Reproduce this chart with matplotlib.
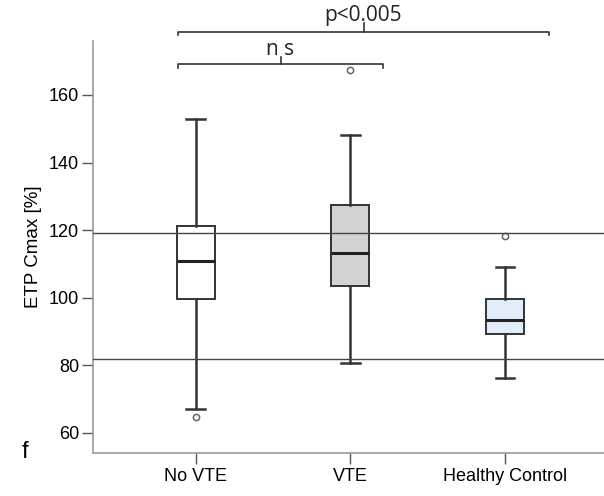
import matplotlib
matplotlib.use("Agg")
import matplotlib.pyplot as plt

# values
groups = ["No VTE", "VTE", "Healthy Control"]
medians = [110.9, 113.2, 93.3]
q1 = [99.5, 103.5, 89.3]
q3 = [121.3, 127.4, 99.6]
whisker_lo = [67.0, 80.8, 76.2]
whisker_hi = [153.0, 148.2, 109.0]
outliers = [[64.8], [167.3], [118.2]]
fills = ["white", "#d3d3d3", "#e1edf9"]
ref_lines = [119.1, 82.0]

plt.rcParams["font.family"] = ["Liberation Sans", "DejaVu Sans"]

fig = plt.figure(figsize=(6.04, 4.96), dpi=100)
ax = fig.add_axes([0.154, 0.087, 0.846, 0.830])

stats = []
for i, name in enumerate(groups):
    stats.append({"label": name, "med": medians[i], "q1": q1[i], "q3": q3[i],
                  "whislo": whisker_lo[i], "whishi": whisker_hi[i],
                  "fliers": outliers[i]})

bp = ax.bxp(stats, positions=[1, 2, 3], widths=0.245, capwidths=0.12,
            patch_artist=True, showfliers=True,
            boxprops=dict(edgecolor="#333333", linewidth=1.4),
            medianprops=dict(color="#222222", linewidth=2.2),
            whiskerprops=dict(color="#333333", linewidth=1.8),
            capprops=dict(color="#333333", linewidth=1.8),
            flierprops=dict(marker="o", markersize=4.5, markerfacecolor="none",
                            markeredgecolor="#666666", markeredgewidth=1.1))
for patch, c in zip(bp["boxes"], fills):
    patch.set_facecolor(c)

for v in ref_lines:
    ax.axhline(v, color="#444444", linewidth=1.0, zorder=3)

ax.set_xlim(0.336, 3.64)
ax.set_ylim(54.1, 175.9)
ax.set_yticks([60, 80, 100, 120, 140, 160])
ax.set_ylabel("ETP Cmax [%]", fontsize=13.5, labelpad=5)
ax.tick_params(axis="y", length=8, width=1, color="#555555", labelsize=13, pad=2)
ax.tick_params(axis="x", length=8, width=1, color="#555555", labelsize=13, pad=3)
ax.spines["top"].set_visible(False)
ax.spines["right"].set_visible(False)
for s in ["left", "bottom"]:
    ax.spines[s].set_color("#999999")
    ax.spines[s].set_linewidth(1.2)

# significance brackets
def bracket(x0, x1, y, up, text):
    xm = (x0 + x1) / 2
    ax.plot([x0, x0, x1, x1], [y - 1.0, y, y, y - 1.0], color="#333333",
            linewidth=1.2, clip_on=False)
    ax.plot([xm, xm], [y, y + up], color="#333333", linewidth=1.2, clip_on=False)
    ax.text(xm, y + up + 0.6, text, ha="center", va="baseline", fontsize=15,
            family=["Open Sans", "DejaVu Sans"], color="#222222")

bracket(0.886, 2.211, 169.1, 2.1, "n s")
bracket(0.886, 3.284, 178.6, 2.8, "p<0.005")

fig.text(0.035, 0.077, "f", fontsize=17, va="baseline", ha="left")

fig.savefig("out.png", dpi=100)
